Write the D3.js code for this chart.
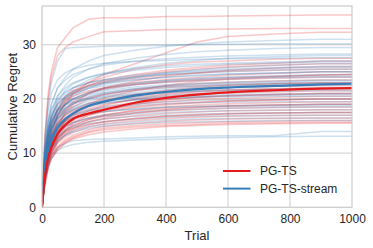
<!DOCTYPE html>
<html>
<head>
<meta charset="utf-8">
<script src="https://cdn.jsdelivr.net/npm/d3@7"></script>
<style>
    body { margin: 0; background: #fff; }
    text { font-family: Arial, "Liberation Sans", sans-serif; fill: #262626; }
</style>
</head>
<body>
<svg id="chart" width="373" height="248"></svg>
<script>
// trial grid shared by every run
const trials = [0, 5, 10, 20, 30, 50, 75, 100, 150, 200, 300, 400, 500, 600, 750, 900, 1000];

const xTicks = [0, 200, 400, 600, 800, 1000];
const yTicks = [0, 10, 20, 30];

const seriesNames = ["PG-TS", "PG-TS-stream"];

const pgtsMean = [0, 3.5, 6, 9.2, 11, 13.5, 15.2, 16.3, 17.3, 18.0, 19.3, 20.2, 20.8, 21.2, 21.6, 21.9, 22.0];
const streamMean = [0, 4, 7, 10.3, 12.3, 14.7, 16.3, 17.3, 18.7, 19.5, 20.6, 21.3, 21.8, 22.1, 22.4, 22.7, 22.8];

const pgtsRuns = [
    [0, 8, 14, 21, 25, 29.5, 31.3, 33.1, 34.7, 35.0, 35.0, 35.2, 35.2, 35.3, 35.4, 35.5, 35.5],
    [0, 7, 13, 20, 24, 28, 29.5, 30.5, 31.5, 32.4, 32.6, 32.8, 32.8, 32.9, 33.0, 33.0, 33.0],
    [0, 5, 8, 12, 14, 17, 19, 21, 23, 24.5, 26.5, 28.5, 30.5, 31.5, 32.0, 32.3, 32.3],
    [0, 5, 9, 13, 15, 18, 20, 21.5, 23, 24, 25.5, 26.3, 26.8, 27.0, 27.3, 27.5, 27.5],
    [0, 4, 7, 11, 13.5, 17, 19.5, 21, 22.5, 23.5, 24.5, 25.3, 25.8, 26.2, 26.6, 27.0, 27.0],
    [0, 6, 10, 14, 16.5, 19, 20.5, 21.5, 22.5, 23.2, 24.2, 25, 25.5, 25.9, 26.2, 26.5, 26.5],
    [0, 3, 6, 9.5, 12, 15, 17.5, 19, 21, 22, 23.3, 24.2, 24.8, 25.3, 25.7, 26.0, 26.0],
    [0, 5, 9, 13, 15.5, 18, 20, 21, 22.3, 23, 23.8, 24.4, 24.8, 25.1, 25.3, 25.5, 25.5],
    [0, 4, 7, 11, 13, 16, 18, 19.5, 21, 22, 23, 23.6, 24, 24.4, 24.7, 25.0, 25.0],
    [0, 4.5, 8, 12, 14.5, 17, 18.8, 20, 21.2, 21.8, 22.6, 23.2, 23.6, 23.9, 24.2, 24.4, 24.5],
    [0, 3, 5.5, 9, 11.5, 14, 16, 17.5, 19, 20.2, 21.5, 22.5, 23.2, 23.7, 24.1, 24.4, 24.5],
    [0, 5, 9.5, 13.5, 15.5, 18, 19.5, 20.5, 21.5, 22, 22.7, 23.1, 23.4, 23.6, 23.8, 24.0, 24.0],
    [0, 4, 7, 10.5, 13, 15.5, 17.3, 18.5, 20, 20.8, 21.8, 22.4, 22.8, 23.1, 23.3, 23.5, 23.5],
    [0, 3.5, 6, 9.5, 11.5, 14, 16, 17.2, 18.6, 19.5, 20.8, 21.6, 22.1, 22.5, 22.8, 23.0, 23.0],
    [0, 5, 9, 12.5, 14.5, 16.5, 18, 19, 20.2, 20.8, 21.6, 22.1, 22.4, 22.6, 22.8, 23.0, 23.0],
    [0, 4, 7.5, 11, 13, 15.5, 17, 18, 19.2, 19.9, 20.8, 21.4, 21.8, 22.1, 22.3, 22.5, 22.5],
    [0, 3, 5.5, 8.5, 10.5, 13, 15, 16.3, 17.8, 18.8, 20, 20.8, 21.3, 21.6, 21.8, 22.0, 22.0],
    [0, 4.5, 8, 11.5, 13.5, 15.5, 17, 17.8, 18.8, 19.5, 20.4, 21, 21.4, 21.7, 21.9, 22.0, 22.0],
    [0, 3.5, 6.5, 10, 12, 14.5, 16, 17, 18.2, 19, 19.9, 20.5, 20.9, 21.1, 21.3, 21.5, 21.5],
    [0, 4, 7, 10.5, 12.5, 14.5, 16, 16.8, 17.8, 18.5, 19.4, 19.9, 20.3, 20.6, 20.8, 21.0, 21.0],
    [0, 2.5, 5, 8, 10, 12.5, 14.3, 15.5, 17, 17.9, 19, 19.8, 20.3, 20.6, 20.8, 21.0, 21.0],
    [0, 3.5, 6.5, 10, 12, 14, 15.5, 16.5, 17.5, 18.2, 19, 19.5, 19.9, 20.1, 20.3, 20.5, 20.5],
    [0, 3, 6, 9, 11, 13.5, 15, 16, 17, 17.6, 18.4, 18.9, 19.3, 19.6, 19.8, 20.0, 20.0],
    [0, 4, 7.5, 11, 12.8, 14.5, 15.8, 16.5, 17.3, 17.9, 18.6, 19.1, 19.4, 19.6, 19.8, 20.0, 20.0],
    [0, 3, 5.5, 8.5, 10.5, 12.5, 14, 15, 16.2, 17, 17.9, 18.5, 18.9, 19.1, 19.3, 19.5, 19.5],
    [0, 3.5, 6.5, 9.5, 11.5, 13.5, 14.8, 15.6, 16.5, 17.1, 17.8, 18.2, 18.5, 18.7, 18.9, 19.0, 19.0],
    [0, 2.5, 4.5, 7.5, 9.5, 12, 13.5, 14.5, 15.8, 16.5, 17.4, 18, 18.4, 18.7, 18.9, 19.0, 19.0],
    [0, 3, 6, 9, 11, 13, 14.3, 15.2, 16.2, 16.8, 17.4, 17.8, 18.1, 18.3, 18.4, 18.5, 18.5],
    [0, 3.5, 6.5, 9.5, 11, 12.8, 14, 14.8, 15.7, 16.3, 16.9, 17.3, 17.6, 17.8, 17.9, 18.0, 18.0],
    [0, 2.5, 5, 8, 10, 12, 13.3, 14.2, 15.2, 15.8, 16.4, 16.8, 17.1, 17.3, 17.4, 17.5, 17.5],
    [0, 3, 5.5, 8.5, 10.5, 12.5, 13.8, 14.5, 15.3, 15.8, 16.4, 16.8, 17, 17.2, 17.4, 17.5, 17.5],
    [0, 3, 5.5, 8.5, 10, 11.8, 13, 13.8, 14.8, 15.4, 16, 16.4, 16.6, 16.8, 16.9, 17.0, 17.0],
    [0, 2.5, 5, 7.5, 9.3, 11.2, 12.5, 13.3, 14.3, 14.9, 15.5, 15.9, 16.1, 16.3, 16.4, 16.5, 16.5],
    [0, 3, 5.5, 8, 9.5, 11, 12.2, 13, 14, 14.6, 15.1, 15.4, 15.6, 15.8, 15.9, 16.0, 16.0],
    [0, 2, 4, 7, 8.8, 10.8, 12, 12.8, 13.8, 14.3, 14.8, 15.1, 15.3, 15.5, 15.6, 15.7, 15.7],
    [0, 2.5, 5, 7.5, 9, 10.5, 11.8, 12.6, 13.4, 13.9, 14.5, 14.9, 15.1, 15.3, 15.4, 15.5, 15.5]
];

const streamRuns = [
    [0, 6, 11, 16, 19, 22, 24, 25.5, 27, 28, 29, 29.7, 30.2, 30.5, 30.8, 31.0, 31.0],
    [0, 7, 13, 19, 23, 27, 29.3, 29.5, 29.6, 29.7, 29.8, 29.9, 30, 30.1, 30.2, 30.2, 30.2],
    [0, 5, 9, 14, 17, 20.5, 22.5, 24, 25.5, 26.5, 27.5, 28.2, 28.7, 29, 29.3, 29.5, 29.5],
    [0, 6, 11, 16, 19, 22, 23.5, 24.5, 25.5, 26.2, 27, 27.4, 27.7, 27.9, 28.1, 28.3, 28.3],
    [0, 4, 8, 12, 15, 18, 20.5, 22, 23.5, 24.5, 25.8, 26.6, 27.1, 27.5, 27.8, 28.0, 28.0],
    [0, 7, 12.5, 18, 21, 23.5, 24.8, 25.5, 26.2, 26.6, 26.9, 27.1, 27.3, 27.4, 27.5, 27.6, 27.6],
    [0, 5, 9.5, 14, 16.5, 19.5, 21.5, 22.8, 24, 24.8, 25.6, 26.1, 26.4, 26.6, 26.8, 27.0, 27.0],
    [0, 6, 11, 15.5, 18, 20.5, 22, 23, 24, 24.6, 25.3, 25.8, 26.1, 26.4, 26.6, 26.8, 26.8],
    [0, 4, 7.5, 11.5, 14, 17, 19, 20.5, 22, 23, 24, 24.8, 25.4, 25.8, 26.2, 26.5, 26.5],
    [0, 5.5, 10, 14.5, 17, 19.5, 21, 22, 23, 23.6, 24.4, 24.9, 25.2, 25.5, 25.8, 26.0, 26.0],
    [0, 5, 9, 13.5, 16, 18.5, 20.2, 21.3, 22.5, 23.2, 24, 24.6, 25, 25.3, 25.6, 25.8, 25.8],
    [0, 6, 11, 15.5, 18, 20, 21.3, 22.1, 23, 23.5, 24.1, 24.5, 24.8, 25, 25.3, 25.5, 25.5],
    [0, 4.5, 8.5, 13, 15.5, 18, 19.8, 20.8, 22, 22.7, 23.5, 24, 24.4, 24.6, 24.8, 25.0, 25.0],
    [0, 5, 9.5, 14, 16.5, 19, 20.5, 21.4, 22.3, 22.9, 23.6, 24, 24.3, 24.6, 24.8, 25.0, 25.0],
    [0, 4, 8, 12, 14.5, 17.2, 19, 20, 21.3, 22, 22.8, 23.4, 23.8, 24.1, 24.3, 24.5, 24.5],
    [0, 5.5, 10, 14.5, 16.8, 19, 20.3, 21, 21.9, 22.4, 23, 23.4, 23.7, 23.9, 24.1, 24.2, 24.2],
    [0, 4.5, 8.5, 12.5, 15, 17.5, 19, 20, 21.1, 21.8, 22.6, 23.1, 23.4, 23.7, 23.9, 24.0, 24.0],
    [0, 5, 9, 13, 15.5, 17.8, 19.2, 20, 20.9, 21.5, 22.2, 22.6, 22.9, 23.1, 23.3, 23.5, 23.5],
    [0, 4, 7.5, 11.5, 14, 16.5, 18.2, 19.2, 20.4, 21.1, 21.9, 22.4, 22.7, 22.9, 23.1, 23.3, 23.3],
    [0, 5, 9.5, 13.5, 15.8, 17.8, 19, 19.8, 20.7, 21.2, 21.9, 22.3, 22.5, 22.7, 22.9, 23.0, 23.0],
    [0, 4.5, 8, 12, 14.3, 16.8, 18.3, 19.3, 20.3, 20.9, 21.6, 22, 22.3, 22.5, 22.7, 22.8, 22.8],
    [0, 5, 9, 13, 15, 17, 18.3, 19.1, 20, 20.6, 21.2, 21.7, 22, 22.2, 22.4, 22.5, 22.5],
    [0, 4, 7.5, 11.5, 13.8, 16.2, 17.7, 18.6, 19.6, 20.2, 20.8, 21.2, 21.5, 21.7, 21.9, 22.0, 22.0],
    [0, 5.5, 10, 14, 16, 17.8, 18.8, 19.4, 20, 20.4, 20.9, 21.2, 21.4, 21.5, 21.7, 21.8, 21.8],
    [0, 4, 7.5, 11, 13.3, 15.7, 17.2, 18.1, 19.1, 19.7, 20.3, 20.7, 21, 21.2, 21.4, 21.5, 21.5],
    [0, 4.5, 8.5, 12.5, 14.5, 16.5, 17.7, 18.4, 19.2, 19.6, 20.1, 20.4, 20.6, 20.8, 20.9, 21.0, 21.0],
    [0, 3.5, 7, 10.5, 12.8, 15.2, 16.7, 17.6, 18.6, 19.2, 19.8, 20.2, 20.4, 20.6, 20.7, 20.8, 20.8],
    [0, 5, 9, 12.5, 14.5, 16.3, 17.4, 18, 18.8, 19.3, 19.8, 20.1, 20.3, 20.4, 20.5, 20.5, 20.5],
    [0, 4, 7.5, 11, 13, 15, 16.3, 17.1, 18, 18.6, 19.1, 19.5, 19.7, 19.8, 19.9, 20.0, 20.0],
    [0, 4.5, 8, 11.5, 13.5, 15.3, 16.4, 17, 17.8, 18.3, 18.8, 19.1, 19.3, 19.4, 19.5, 19.5, 19.5],
    [0, 3.5, 6.5, 10, 12, 14.2, 15.5, 16.3, 17.2, 17.7, 18.2, 18.5, 18.7, 18.8, 18.9, 19.0, 19.0],
    [0, 4, 7.5, 11, 13, 14.8, 15.9, 16.6, 17.3, 17.7, 18.1, 18.4, 18.5, 18.6, 18.7, 18.8, 18.8],
    [0, 3.5, 6.5, 9.5, 11.5, 13.5, 14.8, 15.6, 16.5, 17, 17.6, 17.9, 18.1, 18.3, 18.4, 18.5, 18.5],
    [0, 4, 7, 10.5, 12.3, 14, 15, 15.7, 16.4, 16.8, 17.2, 17.5, 17.7, 17.8, 17.9, 18.0, 18.0],
    [0, 3, 6, 9, 11, 13, 14.3, 15, 15.8, 16.3, 16.8, 17, 17.2, 17.3, 17.4, 17.5, 17.5],
    [0, 3.5, 6.5, 9.5, 11.2, 13, 14, 14.7, 15.4, 15.8, 16.3, 16.6, 16.8, 16.9, 17.0, 17.0, 17.0],
    [0, 3, 5.5, 8.5, 10.3, 12.2, 13.4, 14.1, 14.9, 15.3, 15.8, 16.1, 16.3, 16.4, 16.5, 16.5, 16.5],
    [0, 3.5, 6, 9, 10.7, 12.3, 13.3, 13.9, 14.6, 15, 15.4, 15.7, 15.8, 15.9, 16.0, 16.0, 16.0],
    [0, 3, 5.5, 8, 9.5, 11, 11.8, 12.3, 12.5, 12.6, 12.8, 13, 13.1, 13.2, 13.2, 14.0, 14.0],
    [0, 2.5, 5, 7.5, 9, 10.5, 11.2, 11.6, 12, 12.2, 12.4, 12.6, 12.8, 12.9, 13.0, 13.1, 13.1]
];

const colors = { red: "#e41a1c", blue: "#377eb8" };

let margin = { left: 42, right: 21, top: 6, bottom: 40.7 };
let width = 373 - margin.left - margin.right;
let height = 248 - margin.top - margin.bottom;

let svg = d3.select("#chart");

let x = d3.scaleLinear().domain([0, 1000]).range([0, width]);
let y = d3.scaleLinear().domain([0, 37.15]).range([height, 0]);

let g = svg.append("g")
    .attr("transform", "translate(" + margin.left + "," + margin.top + ")");

svg.append("defs").append("clipPath")
    .attr("id", "plotClip")
    .append("rect")
    .attr("width", width)
    .attr("height", height);

// grid
g.append("g")
    .selectAll("line")
    .data(xTicks.slice(1, -1))
    .enter()
    .append("line")
    .attr("x1", d => x(d)).attr("x2", d => x(d))
    .attr("y1", 0).attr("y2", height)
    .style("stroke", "#cccccc")
    .style("stroke-width", "1px");

g.append("g")
    .selectAll("line")
    .data(yTicks.slice(1))
    .enter()
    .append("line")
    .attr("x1", 0).attr("x2", width)
    .attr("y1", d => y(d)).attr("y2", d => y(d))
    .style("stroke", "#cccccc")
    .style("stroke-width", "1px");

let runLine = d3.line()
    .x((d, i) => x(trials[i]))
    .y(d => y(d));

let meanLine = d3.line()
    .x((d, i) => x(trials[i]))
    .y(d => y(d))
    .curve(d3.curveMonotoneX);

let plot = g.append("g").attr("clip-path", "url(#plotClip)");

plot.append("g")
    .selectAll("path")
    .data(pgtsRuns)
    .enter()
    .append("path")
    .attr("d", runLine)
    .style("fill", "none")
    .style("stroke", colors.red)
    .style("stroke-opacity", 0.24)
    .style("stroke-width", "1.5px");

plot.append("g")
    .selectAll("path")
    .data(streamRuns)
    .enter()
    .append("path")
    .attr("d", runLine)
    .style("fill", "none")
    .style("stroke", colors.blue)
    .style("stroke-opacity", 0.24)
    .style("stroke-width", "1.5px");

plot.append("path")
    .datum(streamMean)
    .attr("d", meanLine)
    .style("fill", "none")
    .style("stroke", colors.blue)
    .style("stroke-width", "2.2px");

plot.append("path")
    .datum(pgtsMean)
    .attr("d", meanLine)
    .style("fill", "none")
    .style("stroke", colors.red)
    .style("stroke-width", "2.2px");

// frame
g.append("rect")
    .attr("width", width)
    .attr("height", height)
    .style("fill", "none")
    .style("stroke", "#cccccc")
    .style("stroke-width", "1.25px");

// axes
let xAxis = g.append("g")
    .attr("transform", "translate(0," + height + ")")
    .call(d3.axisBottom(x).tickValues(xTicks).tickFormat(d3.format("d")).tickSize(0).tickPadding(7));
let yAxis = g.append("g")
    .call(d3.axisLeft(y).tickValues(yTicks).tickSize(0).tickPadding(6));

[xAxis, yAxis].forEach(a => {
    a.select(".domain").remove();
    a.selectAll("text")
        .style("font-family", "Arial, 'Liberation Sans', sans-serif")
        .style("font-size", "12px")
        .style("fill", "#262626");
});

svg.append("text")
    .attr("x", margin.left + width / 2)
    .attr("y", 240)
    .attr("text-anchor", "middle")
    .style("font-size", "13px")
    .text("Trial");

svg.append("text")
    .attr("transform", "translate(17," + (margin.top + height / 2) + ") rotate(-90)")
    .attr("text-anchor", "middle")
    .style("font-size", "13px")
    .text("Cumulative Regret");

// legend
let legend = svg.append("g")
    .selectAll("g")
    .data(seriesNames)
    .enter()
    .append("g")
    .attr("transform", (d, i) => "translate(223," + (171 + i * 17.6) + ")");

legend.append("line")
    .attr("x1", 0).attr("x2", 27.5)
    .style("stroke", (d, i) => i === 0 ? colors.red : colors.blue)
    .style("stroke-width", "2px");

legend.append("text")
    .attr("x", 37)
    .attr("dy", "0.35em")
    .style("font-size", "12px")
    .text(d => d);
</script>
</body>
</html>
